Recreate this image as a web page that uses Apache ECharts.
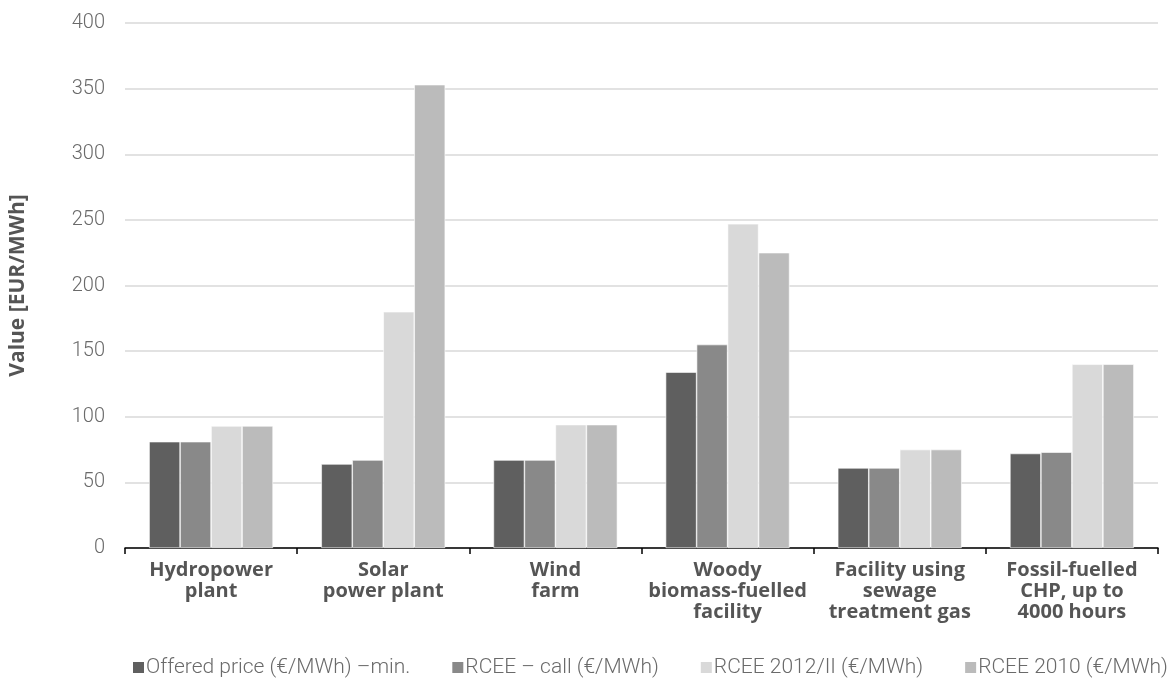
<!DOCTYPE html>
<html>
<head>
<meta charset="utf-8">
<script src="https://cdn.jsdelivr.net/npm/echarts@6/dist/echarts.min.js"></script>
<style>
  html, body { margin: 0; padding: 0; background: #fff; }
  #chart { width: 1173px; height: 693px; }
</style>
</head>
<body>
<div id="chart"></div>
<script>
// Plant categories along the x axis
const categories = [
  'Hydropower\nplant',
  'Solar\npower plant',
  'Wind\nfarm',
  'Woody\nbiomass-fuelled\nfacility',
  'Facility using\nsewage\ntreatment gas',
  'Fossil-fuelled\nCHP, up to\n4000 hours'
];

// Series names
const seriesNames = [
  'Offered price (€/MWh) \u2013min.',
  'RCEE \u2013 call (€/MWh)',
  'RCEE 2012/II (€/MWh)',
  'RCEE 2010 (€/MWh)'
];

// Values in EUR/MWh, per category
const offeredMin = [81, 64, 67, 134, 61, 72];
const rceeCall   = [81, 67, 67, 155, 61, 73];
const rcee2012   = [93, 180, 94, 247, 75, 140];
const rcee2010   = [93, 353, 94, 225, 75, 140];

const yTicks = [0, 50, 100, 150, 200, 250, 300, 350, 400];

const colors = ['#5f5f5f', '#898989', '#d9d9d9', '#bbbbbb'];
const seriesValues = [offeredMin, rceeCall, rcee2012, rcee2010];

const labelFont = '"Open Sans", Roboto, sans-serif';

const chart = echarts.init(document.getElementById('chart'), null, { renderer: 'canvas' });

chart.setOption({
  animation: false,
  color: colors,
  grid: { left: 123, right: 15, top: 23, bottom: 145, containLabel: false },
  legend: {
    bottom: 10,
    left: 126,
    itemWidth: 13,
    itemHeight: 13,
    itemGap: 40,
    icon: 'rect',
    data: seriesNames,
    textStyle: {
      fontFamily: 'Roboto, sans-serif',
      fontWeight: 300,
      fontSize: 21,
      color: '#6a6a6a',
      padding: [0, 0, 0, -4]
    }
  },
  xAxis: {
    type: 'category',
    data: categories,
    axisLine: { lineStyle: { color: '#000', width: 1.5 } },
    axisTick: { show: true, length: 6, lineStyle: { color: '#000', width: 1.5 } },
    axisLabel: {
      margin: 12,
      interval: 0,
      fontFamily: labelFont,
      fontWeight: 'bold',
      fontSize: 20,
      lineHeight: 21,
      color: '#555555'
    }
  },
  yAxis: {
    type: 'value',
    min: 0,
    max: 400,
    interval: 50,
    name: 'Value [EUR/MWh]',
    nameLocation: 'middle',
    nameGap: 96,
    nameRotate: 90,
    nameTextStyle: {
      fontFamily: labelFont,
      fontWeight: 'bold',
      fontSize: 21,
      color: '#555555'
    },
    axisLine: { show: false },
    axisTick: { show: false },
    splitLine: { lineStyle: { color: '#d9d9d9', width: 1.5 } },
    axisLabel: {
      margin: 20,
      fontFamily: 'Roboto, sans-serif',
      fontWeight: 300,
      fontSize: 20,
      color: '#6a6a6a',
      formatter: function (v) { return yTicks.indexOf(v) >= 0 ? String(v) : ''; }
    }
  },
  series: seriesValues.map(function (vals, i) {
    return {
      name: seriesNames[i],
      type: 'bar',
      data: vals,
      barGap: '0%',
      barCategoryGap: '28%',
      itemStyle: { color: colors[i], borderColor: '#ffffff', borderWidth: 0.6 }
    };
  })
});
</script>
</body>
</html>
